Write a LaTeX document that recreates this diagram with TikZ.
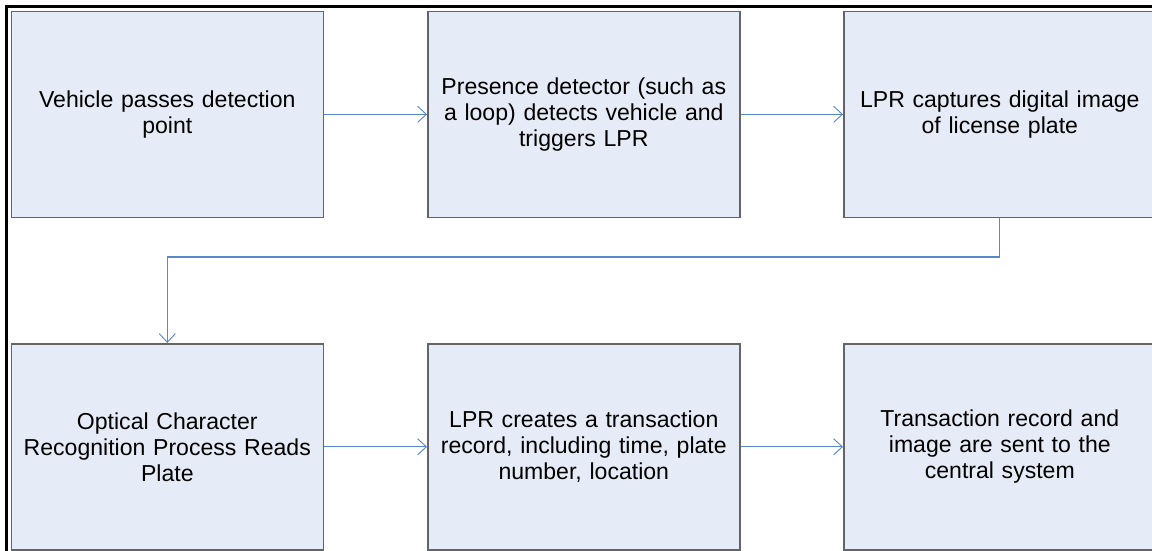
\documentclass[tikz,border=0pt]{standalone}
\usepackage{fontspec}
\setmainfont{Liberation Sans}
\usetikzlibrary{arrows.meta}
\definecolor{boxfill}{RGB}{230,236,247}
\definecolor{boxline}{RGB}{100,100,100}
\definecolor{arrowblue}{RGB}{90,136,204}
\tikzset{
  stepbox/.style={draw=boxline, fill=boxfill, line width=1.2pt, minimum width=312*0.75pt, minimum height=206*0.75pt,
    inner sep=0pt, align=center, text width=305*0.75pt,
    font=\fontsize{17.3pt}{19.5pt}\selectfont, anchor=north west},
  flow/.style={draw=arrowblue, line width=0.8pt, -{Straight Barb[length=6.5pt,width=12pt,line width=0.7pt]}}
}
\begin{document}
\begin{tikzpicture}[x=0.75pt,y=-0.75pt]
\useasboundingbox (0,0) rectangle (1152,550);
\fill[white] (0,0) rectangle (1152,550);
\draw[black, line width=1.6pt] (6.5,560) -- (6.5,6.5) -- (1160,6.5);
\node[stepbox] (a) at (10.5,10.5) {Vehicle passes detection\\point};
\node[stepbox] (b) at (427,10.5) {Presence detector (such as\\a loop) detects vehicle and\\triggers LPR};
\node[stepbox] (c) at (843,10.5) {LPR captures digital image\\of license plate};
\node[stepbox] (d) at (10.5,343) {Optical Character\\Recognition Process Reads\\Plate};
\node[stepbox] (e) at (427,343) {LPR creates a transaction\\record, including time, plate\\number, location};
\node[stepbox] (f) at (843,343) {Transaction record and\\image are sent to the\\central system};
\coordinate (k1) at (c.south |- 0,257);
\coordinate (k2) at (d.north |- 0,257);
\draw[flow] (a.east) -- (b.west);
\draw[flow] (b.east) -- (c.west);
\draw[flow] (c.south) -- (k1) -- (k2) -- (d.north);
\draw[flow] (d.east) -- (e.west);
\draw[flow] (e.east) -- (f.west);
\end{tikzpicture}
\end{document}
